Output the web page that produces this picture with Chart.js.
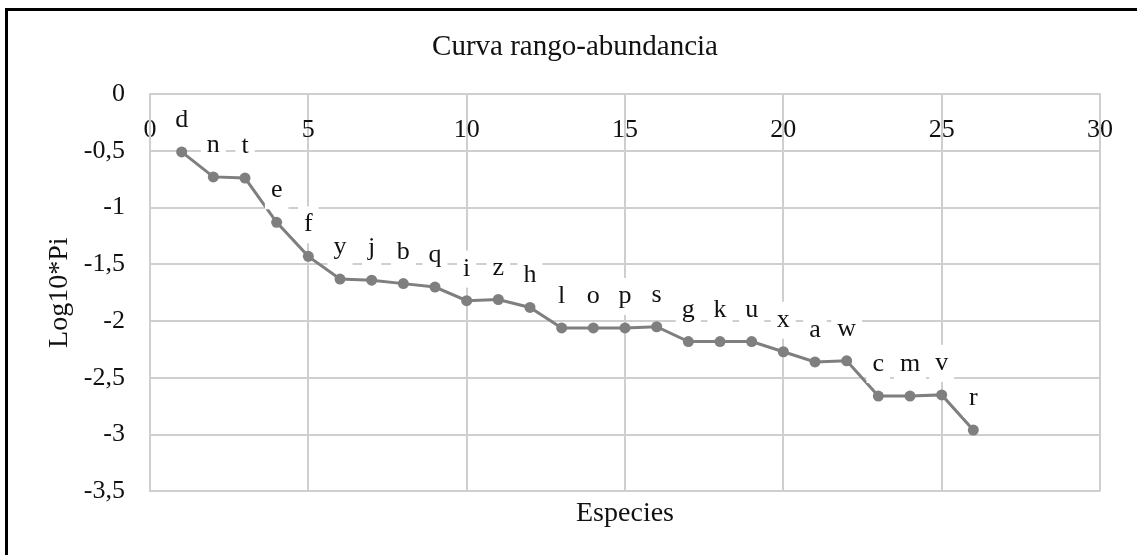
<!DOCTYPE html>
<html>
<head>
<meta charset="utf-8">
<script src="https://cdn.jsdelivr.net/npm/chart.js@4.4.0/dist/chart.umd.min.js"></script>
<style>
  body { margin: 0; background: #fff; overflow: hidden; }
  #frame { position: absolute; left: 5px; top: 8px; width: 1200px; height: 600px;
           border-top: 3px solid #000; border-left: 3px solid #000; }
  #c { position: absolute; left: 0; top: 0; }
</style>
</head>
<body>
<div id="frame"></div>
<canvas id="c" width="1137" height="555"></canvas>
<script>
// rank of each species (x) and its log10 abundance (y)
var ranks = [1, 2, 3, 4, 5, 6, 7, 8, 9, 10, 11, 12, 13, 14, 15, 16, 17, 18, 19, 20, 21, 22, 23, 24, 25, 26];
var species = ['d', 'n', 't', 'e', 'f', 'y', 'j', 'b', 'q', 'i', 'z', 'h', 'l', 'o', 'p', 's', 'g', 'k', 'u', 'x', 'a', 'w', 'c', 'm', 'v', 'r'];
var logPi = [-0.51, -0.73, -0.74, -1.13, -1.43, -1.63, -1.64, -1.67, -1.70, -1.82, -1.81, -1.88,
             -2.06, -2.06, -2.06, -2.05, -2.18, -2.18, -2.18, -2.27, -2.36, -2.35, -2.66, -2.66, -2.65, -2.96];
var xTicks = [0, 5, 10, 15, 20, 25, 30];
var yTicks = [0, -0.5, -1, -1.5, -2, -2.5, -3, -3.5];

var serif = '"Liberation Serif", "Times New Roman", serif';
var gridGrey = '#cfcfcf';
var lineGrey = '#7f7f7f';

var points = [];
for (var i = 0; i < ranks.length; i++) {
    points.push({x: ranks[i], y: logPi[i]});
}

//letters above each point, on a white box that hides the grid behind it
var pointLabels = {
    id: 'pointLabels',
    afterDatasetsDraw: function(chart) {
        var ctx = chart.ctx;
        var meta = chart.getDatasetMeta(0);
        ctx.save();
        ctx.font = '26px ' + serif;
        ctx.textAlign = 'center';
        ctx.textBaseline = 'alphabetic';
        meta.data.forEach(function(pt, i) {
            var txt = species[i];
            var w = ctx.measureText(txt).width + 12;
            var base = pt.y - 25;
            ctx.fillStyle = '#fff';
            ctx.fillRect(pt.x - w / 2, base - 25, w, 37);
            ctx.fillStyle = '#111';
            ctx.fillText(txt, pt.x, base);
        });
        ctx.restore();
    }
};

new Chart(document.getElementById('c'), {
    type: 'scatter',
    data: {
        datasets: [{
            data: points,
            showLine: true,
            borderColor: lineGrey,
            backgroundColor: lineGrey,
            borderWidth: 3,
            pointRadius: 5.5,
            pointBorderWidth: 0,
            xAxisID: 'x',
            yAxisID: 'y'
        }]
    },
    options: {
        responsive: false,
        devicePixelRatio: 1,
        animation: false,
        //left padding shifts the centred title to where it sits in the original
        layout: { padding: { left: 50, right: 37, top: 0, bottom: 0 } },
        plugins: {
            legend: { display: false },
            tooltip: { enabled: false },
            title: {
                display: true,
                text: 'Curva rango-abundancia',
                color: '#111',
                font: { family: serif, size: 29, weight: 'normal' },
                padding: { top: 30, bottom: 29.2 }
            }
        },
        scales: {
            x: {
                type: 'linear',
                position: { y: 0 },
                min: 0,
                max: 30,
                afterBuildTicks: function(scale) {
                    scale.ticks = xTicks.map(function(v) { return {value: v}; });
                },
                grid: { color: gridGrey, lineWidth: 2, drawTicks: false },
                border: { color: gridGrey, width: 2 },
                ticks: {
                    color: '#111',
                    padding: 21,
                    maxRotation: 0,
                    font: { family: serif, size: 26 }
                }
            },
            x2: {
                type: 'linear',
                position: 'bottom',
                grid: { display: false, drawTicks: false },
                border: { display: false },
                ticks: { display: false },
                title: {
                    display: true,
                    text: 'Especies',
                    color: '#111',
                    font: { family: serif, size: 28 },
                    padding: { top: 5, bottom: 25 }
                }
            },
            y: {
                type: 'linear',
                position: 'left',
                min: -3.5,
                max: 0,
                afterBuildTicks: function(scale) {
                    scale.ticks = yTicks.map(function(v) { return {value: v}; });
                },
                afterFit: function(scale) {
                    scale.width = 100;
                },
                grid: { color: gridGrey, lineWidth: 2, drawTicks: false },
                border: { color: gridGrey, width: 2 },
                ticks: {
                    color: '#111',
                    padding: 25,
                    font: { family: serif, size: 26 },
                    callback: function(v) {
                        return String(v).replace('.', ',');
                    }
                },
                title: {
                    display: true,
                    text: 'Log10*Pi',
                    color: '#111',
                    font: { family: serif, size: 28 },
                    padding: { top: -7, bottom: 0 }
                }
            }
        }
    },
    plugins: [pointLabels]
});
</script>
</body>
</html>
